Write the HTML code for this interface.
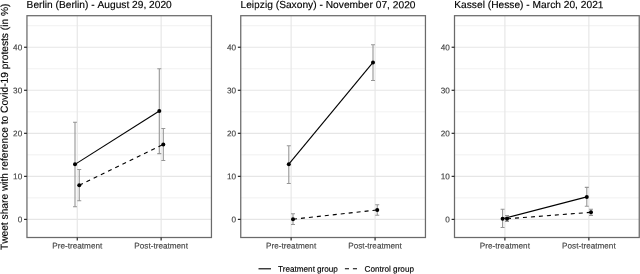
<!DOCTYPE html>
<html><head><meta charset="utf-8"><title>Tweet share</title>
<style>html,body{margin:0;padding:0;background:#fff;}body{width:640px;height:274px;overflow:hidden;}svg{display:block;will-change:transform;filter:grayscale(1);}text{text-rendering:geometricPrecision;font-kerning:none;stroke-width:0.15px;paint-order:stroke;font-family:"Liberation Sans",sans-serif;}</style>
</head><body>
<svg width="640" height="274" viewBox="0 0 640 274">
<rect x="0" y="0" width="640" height="274" fill="#ffffff"/>
<text transform="translate(7.85,126.8) rotate(-89.97)" text-anchor="middle" font-size="10.2" fill="#000" stroke="#000" textLength="246.5" lengthAdjust="spacing">Tweet share with reference to Covid-19 protests (in %)</text>
<g>
<line x1="26.95" x2="211.45" y1="197.88" y2="197.88" stroke="#e8e8e8" stroke-width="0.6"/>
<line x1="26.95" x2="211.45" y1="154.84" y2="154.84" stroke="#e8e8e8" stroke-width="0.6"/>
<line x1="26.95" x2="211.45" y1="111.81" y2="111.81" stroke="#e8e8e8" stroke-width="0.6"/>
<line x1="26.95" x2="211.45" y1="68.77" y2="68.77" stroke="#e8e8e8" stroke-width="0.6"/>
<line x1="26.95" x2="211.45" y1="25.73" y2="25.73" stroke="#e8e8e8" stroke-width="0.6"/>
<line x1="26.95" x2="211.45" y1="219.40" y2="219.40" stroke="#e6e6e6" stroke-width="1.15"/>
<line x1="26.95" x2="211.45" y1="176.36" y2="176.36" stroke="#e6e6e6" stroke-width="1.15"/>
<line x1="26.95" x2="211.45" y1="133.32" y2="133.32" stroke="#e6e6e6" stroke-width="1.15"/>
<line x1="26.95" x2="211.45" y1="90.29" y2="90.29" stroke="#e6e6e6" stroke-width="1.15"/>
<line x1="26.95" x2="211.45" y1="47.25" y2="47.25" stroke="#e6e6e6" stroke-width="1.15"/>
<line x1="77.27" x2="77.27" y1="15.7" y2="237.5" stroke="#e6e6e6" stroke-width="1.15"/>
<line x1="161.13" x2="161.13" y1="15.7" y2="237.5" stroke="#e6e6e6" stroke-width="1.15"/>
<path d="M73.00 122.20H77.00M75.00 122.20V206.70M73.00 206.70H77.00" fill="none" stroke="#969696" stroke-width="1.1"/>
<path d="M157.30 68.70H161.30M159.30 68.70V153.60M157.30 153.60H161.30" fill="none" stroke="#969696" stroke-width="1.1"/>
<path d="M77.25 169.55H81.25M79.25 169.55V200.80M77.25 200.80H81.25" fill="none" stroke="#969696" stroke-width="1.1"/>
<path d="M161.30 128.45H165.30M163.30 128.45V160.45M161.30 160.45H165.30" fill="none" stroke="#969696" stroke-width="1.1"/>
<line x1="75.0" y1="164.35" x2="159.3" y2="110.95" stroke="#000" stroke-width="1.12"/>
<line x1="79.25" y1="185.2" x2="163.3" y2="144.45" stroke="#000" stroke-width="1.12" stroke-dasharray="4 4"/>
<circle cx="75.0" cy="164.35" r="2" fill="#000"/>
<circle cx="159.3" cy="110.95" r="2" fill="#000"/>
<circle cx="79.25" cy="185.2" r="2" fill="#000"/>
<circle cx="163.3" cy="144.45" r="2" fill="#000"/>
<rect x="26.95" y="15.7" width="184.50" height="221.80" fill="none" stroke="#6a6a6a" stroke-width="1.25"/>
<line x1="24.05" x2="26.95" y1="219.40" y2="219.40" stroke="#2a2a2a" stroke-width="1.2"/>
<text transform="translate(22.20,222.35) rotate(0.03)" text-anchor="end" font-size="8.2" fill="#444444" stroke="#444444">0</text>
<line x1="24.05" x2="26.95" y1="176.36" y2="176.36" stroke="#2a2a2a" stroke-width="1.2"/>
<text transform="translate(22.20,179.31) rotate(0.03)" text-anchor="end" font-size="8.2" fill="#444444" stroke="#444444">10</text>
<line x1="24.05" x2="26.95" y1="133.32" y2="133.32" stroke="#2a2a2a" stroke-width="1.2"/>
<text transform="translate(22.20,136.27) rotate(0.03)" text-anchor="end" font-size="8.2" fill="#444444" stroke="#444444">20</text>
<line x1="24.05" x2="26.95" y1="90.29" y2="90.29" stroke="#2a2a2a" stroke-width="1.2"/>
<text transform="translate(22.20,93.24) rotate(0.03)" text-anchor="end" font-size="8.2" fill="#444444" stroke="#444444">30</text>
<line x1="24.05" x2="26.95" y1="47.25" y2="47.25" stroke="#2a2a2a" stroke-width="1.2"/>
<text transform="translate(22.20,50.20) rotate(0.03)" text-anchor="end" font-size="8.2" fill="#444444" stroke="#444444">40</text>
<line x1="77.27" x2="77.27" y1="237.5" y2="240.60" stroke="#2a2a2a" stroke-width="1.2"/>
<text transform="translate(77.27,248.6) rotate(0.03)" text-anchor="middle" font-size="8.2" fill="#444444" stroke="#444444" textLength="50.1" lengthAdjust="spacing">Pre-treatment</text>
<line x1="161.13" x2="161.13" y1="237.5" y2="240.60" stroke="#2a2a2a" stroke-width="1.2"/>
<text transform="translate(161.13,248.6) rotate(0.03)" text-anchor="middle" font-size="8.2" fill="#444444" stroke="#444444" textLength="53.6" lengthAdjust="spacing">Post-treatment</text>
<text transform="translate(26.6,8.05) rotate(0.03)" font-size="10.2" fill="#000" stroke="#000" textLength="145.2" lengthAdjust="spacing">Berlin (Berlin) - August 29, 2020</text>
</g>
<g>
<line x1="240.75" x2="425.45" y1="197.88" y2="197.88" stroke="#e8e8e8" stroke-width="0.6"/>
<line x1="240.75" x2="425.45" y1="154.84" y2="154.84" stroke="#e8e8e8" stroke-width="0.6"/>
<line x1="240.75" x2="425.45" y1="111.81" y2="111.81" stroke="#e8e8e8" stroke-width="0.6"/>
<line x1="240.75" x2="425.45" y1="68.77" y2="68.77" stroke="#e8e8e8" stroke-width="0.6"/>
<line x1="240.75" x2="425.45" y1="25.73" y2="25.73" stroke="#e8e8e8" stroke-width="0.6"/>
<line x1="240.75" x2="425.45" y1="219.40" y2="219.40" stroke="#e6e6e6" stroke-width="1.15"/>
<line x1="240.75" x2="425.45" y1="176.36" y2="176.36" stroke="#e6e6e6" stroke-width="1.15"/>
<line x1="240.75" x2="425.45" y1="133.32" y2="133.32" stroke="#e6e6e6" stroke-width="1.15"/>
<line x1="240.75" x2="425.45" y1="90.29" y2="90.29" stroke="#e6e6e6" stroke-width="1.15"/>
<line x1="240.75" x2="425.45" y1="47.25" y2="47.25" stroke="#e6e6e6" stroke-width="1.15"/>
<line x1="291.12" x2="291.12" y1="15.7" y2="237.5" stroke="#e6e6e6" stroke-width="1.15"/>
<line x1="375.08" x2="375.08" y1="15.7" y2="237.5" stroke="#e6e6e6" stroke-width="1.15"/>
<path d="M286.80 145.70H290.80M288.80 145.70V183.45M286.80 183.45H290.80" fill="none" stroke="#969696" stroke-width="1.1"/>
<path d="M371.00 44.70H375.00M373.00 44.70V80.45M371.00 80.45H375.00" fill="none" stroke="#969696" stroke-width="1.1"/>
<path d="M291.00 213.80H295.00M293.00 213.80V224.50M291.00 224.50H295.00" fill="none" stroke="#969696" stroke-width="1.1"/>
<path d="M375.25 204.75H379.25M377.25 204.75V215.25M375.25 215.25H379.25" fill="none" stroke="#969696" stroke-width="1.1"/>
<line x1="288.8" y1="164.2" x2="373.0" y2="62.45" stroke="#000" stroke-width="1.12"/>
<line x1="293.0" y1="219.2" x2="377.25" y2="209.95" stroke="#000" stroke-width="1.12" stroke-dasharray="4 4"/>
<circle cx="288.8" cy="164.2" r="2" fill="#000"/>
<circle cx="373.0" cy="62.45" r="2" fill="#000"/>
<circle cx="293.0" cy="219.2" r="2" fill="#000"/>
<circle cx="377.25" cy="209.95" r="2" fill="#000"/>
<rect x="240.75" y="15.7" width="184.70" height="221.80" fill="none" stroke="#6a6a6a" stroke-width="1.25"/>
<line x1="237.85" x2="240.75" y1="219.40" y2="219.40" stroke="#2a2a2a" stroke-width="1.2"/>
<text transform="translate(236.00,222.35) rotate(0.03)" text-anchor="end" font-size="8.2" fill="#444444" stroke="#444444">0</text>
<line x1="237.85" x2="240.75" y1="176.36" y2="176.36" stroke="#2a2a2a" stroke-width="1.2"/>
<text transform="translate(236.00,179.31) rotate(0.03)" text-anchor="end" font-size="8.2" fill="#444444" stroke="#444444">10</text>
<line x1="237.85" x2="240.75" y1="133.32" y2="133.32" stroke="#2a2a2a" stroke-width="1.2"/>
<text transform="translate(236.00,136.27) rotate(0.03)" text-anchor="end" font-size="8.2" fill="#444444" stroke="#444444">20</text>
<line x1="237.85" x2="240.75" y1="90.29" y2="90.29" stroke="#2a2a2a" stroke-width="1.2"/>
<text transform="translate(236.00,93.24) rotate(0.03)" text-anchor="end" font-size="8.2" fill="#444444" stroke="#444444">30</text>
<line x1="237.85" x2="240.75" y1="47.25" y2="47.25" stroke="#2a2a2a" stroke-width="1.2"/>
<text transform="translate(236.00,50.20) rotate(0.03)" text-anchor="end" font-size="8.2" fill="#444444" stroke="#444444">40</text>
<line x1="291.12" x2="291.12" y1="237.5" y2="240.60" stroke="#2a2a2a" stroke-width="1.2"/>
<text transform="translate(291.12,248.6) rotate(0.03)" text-anchor="middle" font-size="8.2" fill="#444444" stroke="#444444" textLength="50.1" lengthAdjust="spacing">Pre-treatment</text>
<line x1="375.08" x2="375.08" y1="237.5" y2="240.60" stroke="#2a2a2a" stroke-width="1.2"/>
<text transform="translate(375.08,248.6) rotate(0.03)" text-anchor="middle" font-size="8.2" fill="#444444" stroke="#444444" textLength="53.6" lengthAdjust="spacing">Post-treatment</text>
<text transform="translate(240.5,8.05) rotate(0.03)" font-size="10.2" fill="#000" stroke="#000" textLength="175.0" lengthAdjust="spacing">Leipzig (Saxony) - November 07, 2020</text>
</g>
<g>
<line x1="454.50" x2="639.25" y1="197.88" y2="197.88" stroke="#e8e8e8" stroke-width="0.6"/>
<line x1="454.50" x2="639.25" y1="154.84" y2="154.84" stroke="#e8e8e8" stroke-width="0.6"/>
<line x1="454.50" x2="639.25" y1="111.81" y2="111.81" stroke="#e8e8e8" stroke-width="0.6"/>
<line x1="454.50" x2="639.25" y1="68.77" y2="68.77" stroke="#e8e8e8" stroke-width="0.6"/>
<line x1="454.50" x2="639.25" y1="25.73" y2="25.73" stroke="#e8e8e8" stroke-width="0.6"/>
<line x1="454.50" x2="639.25" y1="219.40" y2="219.40" stroke="#e6e6e6" stroke-width="1.15"/>
<line x1="454.50" x2="639.25" y1="176.36" y2="176.36" stroke="#e6e6e6" stroke-width="1.15"/>
<line x1="454.50" x2="639.25" y1="133.32" y2="133.32" stroke="#e6e6e6" stroke-width="1.15"/>
<line x1="454.50" x2="639.25" y1="90.29" y2="90.29" stroke="#e6e6e6" stroke-width="1.15"/>
<line x1="454.50" x2="639.25" y1="47.25" y2="47.25" stroke="#e6e6e6" stroke-width="1.15"/>
<line x1="504.89" x2="504.89" y1="15.7" y2="237.5" stroke="#e6e6e6" stroke-width="1.15"/>
<line x1="588.86" x2="588.86" y1="15.7" y2="237.5" stroke="#e6e6e6" stroke-width="1.15"/>
<path d="M500.60 209.30H504.60M502.60 209.30V227.50M500.60 227.50H504.60" fill="none" stroke="#969696" stroke-width="1.1"/>
<path d="M584.80 187.40H588.80M586.80 187.40V206.30M584.80 206.30H588.80" fill="none" stroke="#969696" stroke-width="1.1"/>
<path d="M505.00 215.60H509.00M507.00 215.60V221.40M505.00 221.40H509.00" fill="none" stroke="#969696" stroke-width="1.1"/>
<path d="M589.00 209.20H593.00M591.00 209.20V215.40M589.00 215.40H593.00" fill="none" stroke="#969696" stroke-width="1.1"/>
<line x1="502.6" y1="218.8" x2="586.8" y2="196.9" stroke="#000" stroke-width="1.12"/>
<line x1="507.0" y1="218.8" x2="591.0" y2="212.3" stroke="#000" stroke-width="1.12" stroke-dasharray="4 4"/>
<circle cx="502.6" cy="218.8" r="2" fill="#000"/>
<circle cx="586.8" cy="196.9" r="2" fill="#000"/>
<circle cx="507.0" cy="218.8" r="2" fill="#000"/>
<circle cx="591.0" cy="212.3" r="2" fill="#000"/>
<rect x="454.5" y="15.7" width="184.75" height="221.80" fill="none" stroke="#6a6a6a" stroke-width="1.25"/>
<line x1="451.60" x2="454.50" y1="219.40" y2="219.40" stroke="#2a2a2a" stroke-width="1.2"/>
<text transform="translate(449.75,222.35) rotate(0.03)" text-anchor="end" font-size="8.2" fill="#444444" stroke="#444444">0</text>
<line x1="451.60" x2="454.50" y1="176.36" y2="176.36" stroke="#2a2a2a" stroke-width="1.2"/>
<text transform="translate(449.75,179.31) rotate(0.03)" text-anchor="end" font-size="8.2" fill="#444444" stroke="#444444">10</text>
<line x1="451.60" x2="454.50" y1="133.32" y2="133.32" stroke="#2a2a2a" stroke-width="1.2"/>
<text transform="translate(449.75,136.27) rotate(0.03)" text-anchor="end" font-size="8.2" fill="#444444" stroke="#444444">20</text>
<line x1="451.60" x2="454.50" y1="90.29" y2="90.29" stroke="#2a2a2a" stroke-width="1.2"/>
<text transform="translate(449.75,93.24) rotate(0.03)" text-anchor="end" font-size="8.2" fill="#444444" stroke="#444444">30</text>
<line x1="451.60" x2="454.50" y1="47.25" y2="47.25" stroke="#2a2a2a" stroke-width="1.2"/>
<text transform="translate(449.75,50.20) rotate(0.03)" text-anchor="end" font-size="8.2" fill="#444444" stroke="#444444">40</text>
<line x1="504.89" x2="504.89" y1="237.5" y2="240.60" stroke="#2a2a2a" stroke-width="1.2"/>
<text transform="translate(504.89,248.6) rotate(0.03)" text-anchor="middle" font-size="8.2" fill="#444444" stroke="#444444" textLength="50.1" lengthAdjust="spacing">Pre-treatment</text>
<line x1="588.86" x2="588.86" y1="237.5" y2="240.60" stroke="#2a2a2a" stroke-width="1.2"/>
<text transform="translate(588.86,248.6) rotate(0.03)" text-anchor="middle" font-size="8.2" fill="#444444" stroke="#444444" textLength="53.6" lengthAdjust="spacing">Post-treatment</text>
<text transform="translate(454.3,8.05) rotate(0.03)" font-size="10.2" fill="#000" stroke="#000" textLength="149.2" lengthAdjust="spacing">Kassel (Hesse) - March 20, 2021</text>
</g>
<line x1="258.5" x2="271" y1="268.8" y2="268.8" stroke="#000" stroke-width="1.12"/>
<text transform="translate(277.9,271.7) rotate(0.03)" font-size="8.2" fill="#000" stroke="#000" textLength="60.0" lengthAdjust="spacing">Treatment group</text>
<line x1="344.9" x2="357.2" y1="268.8" y2="268.8" stroke="#000" stroke-width="1.12" stroke-dasharray="4.1 3.9"/>
<text transform="translate(364.6,271.7) rotate(0.03)" font-size="8.2" fill="#000" stroke="#000" textLength="49.4" lengthAdjust="spacing">Control group</text>
</svg>
</body></html>
